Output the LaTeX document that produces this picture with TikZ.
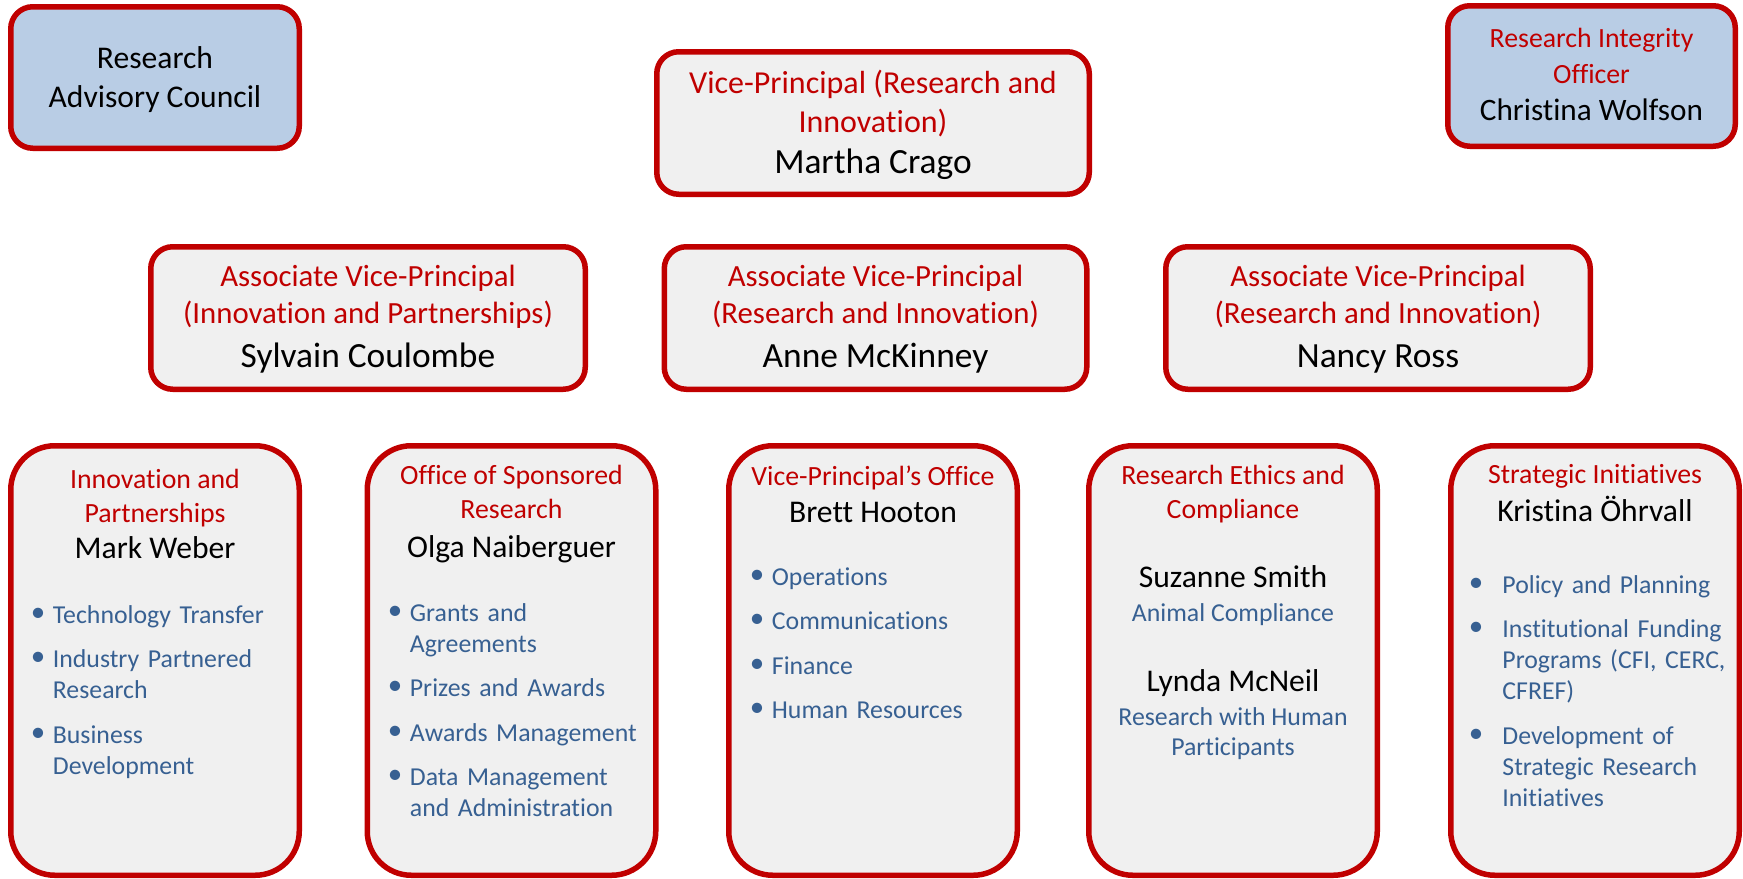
\documentclass[tikz,border=0pt]{standalone}
\usepackage{fontspec}
\setmainfont{Carlito}[Ligatures=NoCommon]
\usepackage{tikz}

\definecolor{boxred}{HTML}{C00000}
\definecolor{boxgray}{HTML}{F0F0F0}
\definecolor{boxblue}{HTML}{B9CDE5}
\definecolor{itemblue}{HTML}{376092}

\newlength{\bulind}
\setlength{\bulind}{11pt}
\newcommand{\bitem}[1]{\hangindent=\bulind\hangafter=1\noindent\makebox[\bulind][l]{\raisebox{0.8pt}{\fontsize{14.5}{0}\selectfont\textbullet}}#1\par\vspace{6.75pt}}

\begin{document}
\begin{tikzpicture}[x=0.5pt, y=-0.5pt,
  box/.style={draw=boxred, line width=2.75pt, inner sep=0pt},
  topbox/.style={box, rounded corners=11pt, fill=boxgray},
  lowbox/.style={box, rounded corners=22pt, fill=boxgray, minimum width=144.25pt, minimum height=214.75pt},
  unithead/.style={anchor=base, align=center, inner sep=0pt, text=boxred},
  person/.style={anchor=base, align=center, inner sep=0pt, text=black},
  role/.style={anchor=base, align=center, inner sep=0pt, text=itemblue, font=\fontsize{12.9}{15}\selectfont},
  tasks/.style={anchor=base west, text width=135pt, align=left, inner sep=0pt, text=itemblue, font=\fontsize{12.9}{15.5}\selectfont}]
\useasboundingbox (0,0) rectangle (1743,878);

% Top row
\node[topbox, fill=boxblue, minimum width=144.25pt, minimum height=70.75pt] (council) at (155,77.5) {};
\node[person, font=\fontsize{15.8}{19.5}\selectfont] (councilname) at (155,107) {Research\\Advisory Council};

\node[topbox, minimum width=216.25pt, minimum height=71.25pt] (vp) at (873,123) {};
\node[unithead, font=\fontsize{16}{19.5}\selectfont] (vptitle) at (873,132) {Vice-Principal (Research and\\Innovation)};
\node[person, font=\fontsize{17.7}{21}\selectfont] (vpname) at (873,173) {Martha Crago};

\node[topbox, fill=boxblue, minimum width=143.75pt, minimum height=70.25pt] (integrity) at (1591.5,76) {};
\node[unithead, font=\fontsize{13.9}{17.5}\selectfont] (integritytitle) at (1591.5,83) {Research Integrity\\Officer};
\node[person, font=\fontsize{15.6}{19}\selectfont] (integrityname) at (1591.5,120) {Christina Wolfson};

% Associate vice-principals
\node[topbox, minimum width=217.25pt, minimum height=71.25pt] (avpinno) at (368,318) {};
\node[unithead, font=\fontsize{15.4}{18.3}\selectfont] (avpinnotitle) at (368,323) {Associate Vice-Principal\\(Innovation and Partnerships)};
\node[person, font=\fontsize{17.7}{21}\selectfont] (avpinnoname) at (368,367) {Sylvain Coulombe};

\node[topbox, minimum width=211.25pt, minimum height=71.25pt] (avpres) at (875.5,318) {};
\node[unithead, font=\fontsize{15.4}{18.3}\selectfont] (avprestitle) at (875.5,323) {Associate Vice-Principal\\(Research and Innovation)};
\node[person, font=\fontsize{17.7}{21}\selectfont] (avpresname) at (875.5,367) {Anne McKinney};

\node[topbox, minimum width=212.25pt, minimum height=71.25pt] (avpross) at (1378,318) {};
\node[unithead, font=\fontsize{15.4}{18.3}\selectfont] (avprosstitle) at (1378,323) {Associate Vice-Principal\\(Research and Innovation)};
\node[person, font=\fontsize{17.7}{21}\selectfont] (avprossname) at (1378,367) {Nancy Ross};

% Units
\node[lowbox] (innov) at (155,660.5) {};
\node[unithead, font=\fontsize{13.9}{17}\selectfont] (innovtitle) at (155,522) {Innovation and\\Partnerships};
\node[person, font=\fontsize{15.8}{19}\selectfont] (innovname) at (155,558) {Mark Weber};
\node[tasks] (innovtasks) at (30.5,623) {\bitem{Technology Transfer}\bitem{Industry Partnered\newline Research}\bitem{Business\newline Development}};

\node[lowbox] (osr) at (511.5,660.5) {};
\node[unithead, font=\fontsize{13.9}{17}\selectfont] (osrtitle) at (511.5,518) {Office of Sponsored\\Research};
\node[person, font=\fontsize{15.8}{19}\selectfont] (osrname) at (511.5,557) {Olga Naiberguer};
\node[tasks] (osrtasks) at (387.5,621) {\bitem{Grants and\newline Agreements}\bitem{Prizes and Awards}\bitem{Awards Management}\bitem{Data Management\newline and Administration}};

\node[lowbox] (vpo) at (873,660.5) {};
\node[unithead, font=\fontsize{13.9}{17}\selectfont] (vpotitle) at (873,485) {Vice-Principal’s Office};
\node[person, font=\fontsize{15.8}{19}\selectfont] (vponame) at (873,522) {Brett Hooton};
\node[tasks] (vpotasks) at (749.5,585) {\bitem{Operations}\bitem{Communications}\bitem{Finance}\bitem{Human Resources}};

\node[lowbox] (ethics) at (1233,660.5) {};
\node[unithead, font=\fontsize{13.9}{17}\selectfont] (ethicstitle) at (1233,518) {Research Ethics and\\Compliance};
\node[person, font=\fontsize{15.8}{19}\selectfont] (ethicsname1) at (1233,587) {Suzanne Smith};
\node[role] (ethicsrole1) at (1233,621) {Animal Compliance};
\node[person, font=\fontsize{15.8}{19}\selectfont] (ethicsname2) at (1233,691) {Lynda McNeil};
\node[role] (ethicsrole2) at (1233,755) {Research with Human\\Participants};

\node[lowbox] (strat) at (1595,660.5) {};
\node[unithead, font=\fontsize{13.9}{17}\selectfont] (strattitle) at (1595,483) {Strategic Initiatives};
\node[person, font=\fontsize{15.8}{19}\selectfont] (stratname) at (1595,521) {Kristina Öhrvall};
\node[tasks] (strattasks) at (1468.5,593) {\setlength{\bulind}{16.75pt}\bitem{Policy and Planning}\bitem{Institutional Funding\newline Programs (CFI, CERC,\newline CFREF)}\bitem{Development of\newline Strategic Research\newline Initiatives}};
\end{tikzpicture}
\end{document}
